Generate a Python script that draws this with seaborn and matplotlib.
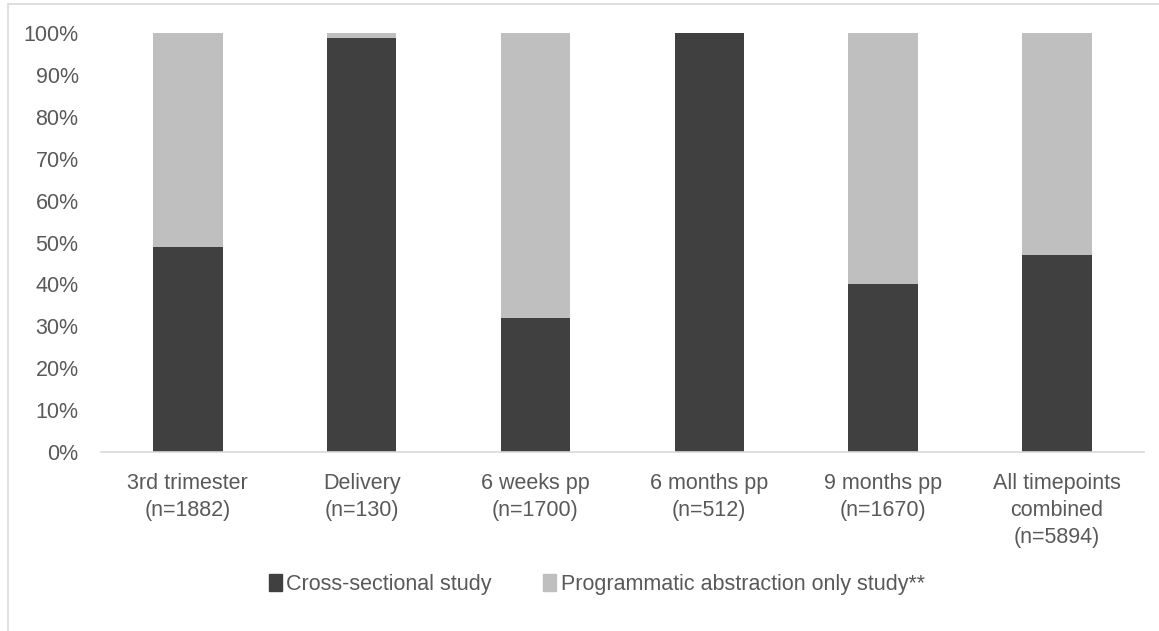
import numpy as np
import pandas as pd
import seaborn as sns
import matplotlib.pyplot as plt
from matplotlib.patches import Rectangle, Patch

# data
timepoints = ["3rd trimester\n(n=1882)", "Delivery\n(n=130)", "6 weeks pp\n(n=1700)",
              "6 months pp\n(n=512)", "9 months pp\n(n=1670)",
              "All timepoints\ncombined\n(n=5894)"]
cross_sectional = [49, 99, 32, 100, 40, 47]
programmatic = [51, 1, 68, 0, 60, 53]

df = pd.DataFrame({"timepoint": timepoints,
                   "cross": cross_sectional,
                   "prog": programmatic})
df["total"] = df["cross"] + df["prog"]

sns.set_theme(style="white")
plt.rcParams["font.family"] = ["Liberation Sans", "DejaVu Sans"]
txt = "#595959"

fig = plt.figure(figsize=(11.59, 6.31), dpi=100)
ax = fig.add_axes([0.087, 0.284, 0.9, 0.663])

sns.barplot(data=df, x="timepoint", y="total", color="#BFBFBF", width=0.4,
            saturation=1, linewidth=0, ax=ax)
sns.barplot(data=df, x="timepoint", y="cross", color="#404040", width=0.4,
            saturation=1, linewidth=0, ax=ax)

ax.set_ylim(0, 100)
ax.set_yticks(np.arange(0, 101, 10))
ax.set_yticklabels([f"{v}%" for v in range(0, 101, 10)])
ax.set_xlabel("")
ax.set_ylabel("")
ax.tick_params(axis="both", length=0, labelsize=15.5, colors=txt)
ax.tick_params(axis="x", pad=15)
ax.tick_params(axis="y", pad=16)
for lbl in ax.get_xticklabels():
    lbl.set_linespacing(1.4)
for s in ["top", "right", "left"]:
    ax.spines[s].set_visible(False)
ax.spines["bottom"].set_color("#D9D9D9")
ax.spines["bottom"].set_linewidth(1.2)

handles = [Patch(color="#404040", label="Cross-sectional study"),
           Patch(color="#BFBFBF", label="Programmatic abstraction only study**")]
fig.legend(handles=handles, loc="center", bbox_to_anchor=(0.515, 0.074), ncol=2,
           frameon=False, fontsize=15.5, handlelength=0.6, handleheight=0.8,
           handletextpad=0.2, columnspacing=2.4, labelcolor=txt)

# chart-area border
fig.patches.append(Rectangle((0.007, -0.01), 1.0, 1.003, transform=fig.transFigure,
                             fill=False, edgecolor="#D9D9D9", linewidth=1.2))

fig.savefig("out.png", dpi=100)
